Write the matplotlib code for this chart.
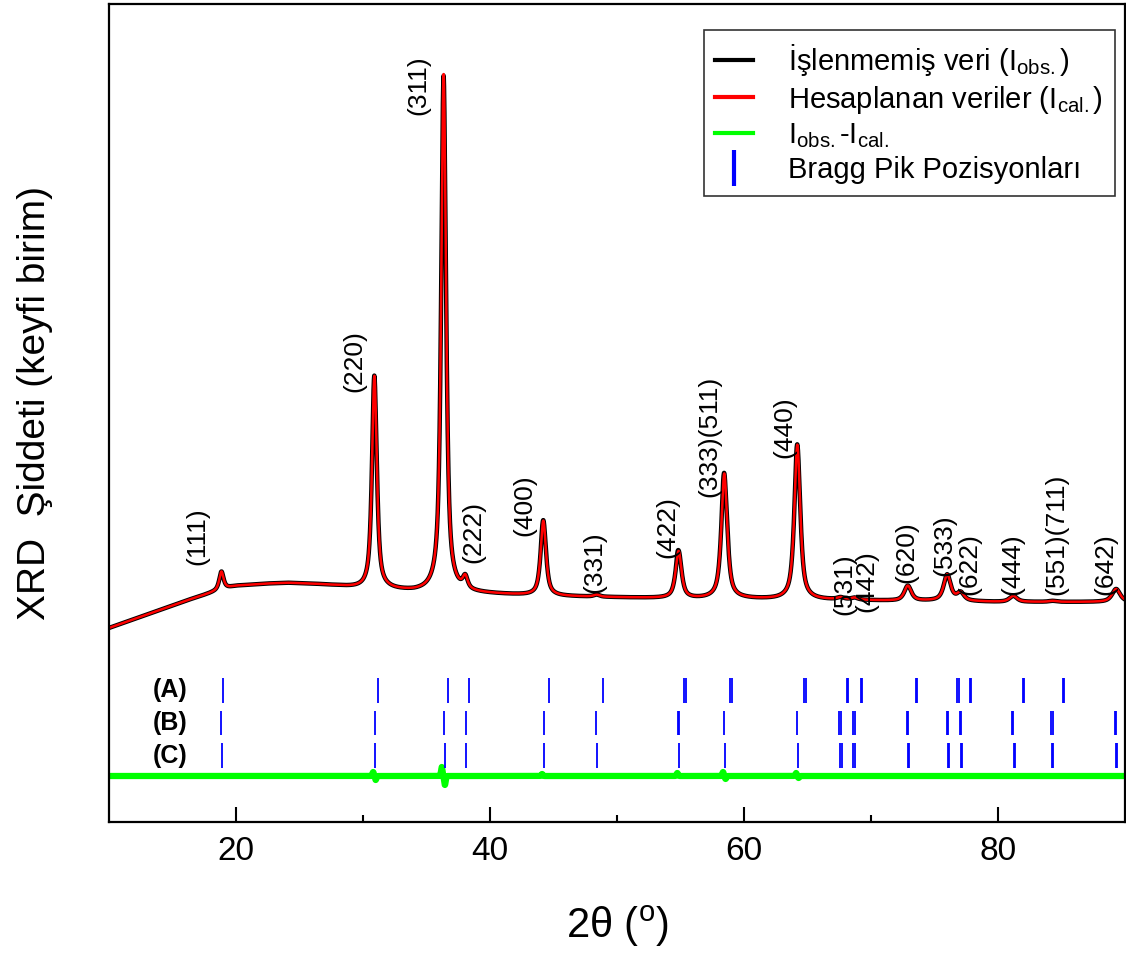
import numpy as np
import matplotlib.pyplot as plt
from matplotlib.lines import Line2D

plt.rcParams['font.family'] = ['Liberation Sans', 'DejaVu Sans']
plt.rcParams['mathtext.fontset'] = 'custom'
plt.rcParams['mathtext.rm'] = 'Liberation Sans'
plt.rcParams['mathtext.it'] = 'Liberation Sans:italic'

# background read along the pattern (2theta, intensity)
bg_2theta = [10, 12, 14, 16, 18, 19, 20, 22, 24, 26, 28, 30, 32, 34, 38, 40, 44, 48, 52, 56, 60, 64, 68, 72, 76, 80, 84, 88, 90]
bg_int = [194, 203, 212, 221, 229, 233, 236, 238, 239, 238, 236, 233, 232, 230, 229, 228, 226, 225, 224, 223, 223, 222, 222, 221, 221, 220, 220, 220, 220]

# reflections: position, height above background, FWHM
peak_2theta = [18.85, 30.90, 36.35, 38.05, 44.20, 48.40, 54.85, 58.45, 64.20, 67.60, 68.70, 72.90, 76.00, 77.05, 81.20, 84.30, 89.30]
peak_height = [18, 213, 518, 12, 75, 2, 47, 125, 155, 2, 2, 15, 26, 8, 6, 1, 13]
peak_fwhm = [0.40, 0.45, 0.45, 0.45, 0.50, 0.55, 0.55, 0.55, 0.55, 0.6, 0.6, 0.65, 0.65, 0.65, 0.7, 0.7, 0.75]

# residual (obs - calc) around the strong reflections
resid_2theta = [30.80, 31.00, 36.20, 36.45, 44.10, 54.75, 58.35, 58.55, 64.10, 64.30]
resid_amp = [4, -4, 9, -9, 2, 3, 4, -3, 3, -2]

# Bragg positions for the three phases
bragg_A = [18.98, 31.2, 36.67, 38.37, 44.61, 48.87, 55.25, 55.40, 58.92, 59.06, 64.74, 64.88,
           68.08, 68.22, 69.18, 69.32, 73.55, 73.66, 76.78, 76.92, 77.77, 77.90, 81.94, 82.08, 85.09, 85.23]
bragg_B = [18.82, 30.91, 36.35, 38.08, 44.22, 48.35, 54.80, 54.90, 58.46, 64.19, 67.50, 67.62,
           68.62, 68.74, 72.83, 72.93, 75.95, 76.07, 77.00, 77.12, 81.12, 81.22, 84.18, 84.30, 89.20, 89.33]
bragg_C = [18.87, 30.91, 36.46, 38.08, 44.22, 48.43, 54.90, 58.54, 64.27, 67.58, 67.70,
           68.60, 68.72, 72.95, 73.03, 76.08, 76.18, 77.08, 77.20, 81.25, 81.37, 84.25, 84.37, 89.27, 89.39]
bragg_rows = [bragg_A, bragg_B, bragg_C]
row_names = ['(A)', '(B)', '(C)']
row_lo = [119, 87, 54]
row_hi = [144, 111, 79]

# hkl labels: text, x, y of the lower end
hkl_text = ['(111)', '(220)', '(311)', '(222)', '(400)', '(331)', '(422)', '(333)(511)', '(440)',
            '(531)', '(442)', '(620)', '(533)', '(622)', '(444)', '(551)(711)', '(642)']
hkl_x = [16.93, 29.29, 34.33, 38.66, 42.68, 48.19, 53.94, 57.24, 63.15,
         67.87, 69.61, 72.76, 75.75, 77.72, 81.1, 84.57, 88.43]
hkl_y = [257, 430, 707, 259, 286, 229, 264, 325, 364, 207, 210, 239, 246, 227, 227, 227, 227]

diff_offset = 46


def pseudo_voigt(x, x0, h, w, eta=0.75):
    g = np.exp(-4 * np.log(2) * ((x - x0) / w) ** 2)
    lor = 1.0 / (1.0 + 4 * ((x - x0) / w) ** 2)
    return h * (eta * lor + (1 - eta) * g)


tt = np.arange(10, 90.001, 0.01)
calc = np.interp(tt, bg_2theta, bg_int)
for p, h, w in zip(peak_2theta, peak_height, peak_fwhm):
    calc = calc + pseudo_voigt(tt, p, h, w)
diff = np.zeros_like(tt)
for p, a in zip(resid_2theta, resid_amp):
    diff = diff + a * np.exp(-((tt - p) / 0.08) ** 2)
obs = calc + diff

fig = plt.figure(figsize=(11.26, 9.56), dpi=100)
ax = fig.add_axes([109 / 1126, 134 / 956, 1016 / 1126, 818 / 956])

ax.plot(tt, obs, color='black', lw=3.2, label='İşlenmemiş veri (' + r'$\mathrm{I_{obs.}}$' + ')')
ax.plot(tt, calc, color='red', lw=1.8, label='Hesaplanan veriler (' + r'$\mathrm{I_{cal.}}$' + ')')
ax.plot(tt, diff + diff_offset, color='#00ff00', lw=4.5, label=r'$\mathrm{I_{obs.}}$-$\mathrm{I_{cal.}}$')

for pos, lo, hi, name in zip(bragg_rows, row_lo, row_hi, row_names):
    ax.vlines(pos, lo, hi, color='blue', lw=1.3)
    ax.text(16.2, (lo + hi) / 2, name, ha='right', va='center', fontsize=18, fontweight='bold')

for t, x, y in zip(hkl_text, hkl_x, hkl_y):
    ax.text(x, y, t, rotation=90, ha='center', va='bottom', fontsize=19)

handles, labels = ax.get_legend_handles_labels()
handles.append(Line2D([], [], color='blue', marker='|', linestyle='none', markersize=26, markeredgewidth=3))
labels.append('Bragg Pik Pozisyonları')
leg = ax.legend(handles, labels, loc='upper right', bbox_to_anchor=(0.99, 0.968), fontsize=21,
                frameon=True, fancybox=False, edgecolor='black', handlelength=1.3,
                handletextpad=1.2, borderpad=0.4, labelspacing=0.2, borderaxespad=0)
leg.get_frame().set_linewidth(1.2)
for line in leg.get_lines()[:3]:
    line.set_linewidth(3)

ax.set_xlim(10, 90)
ax.set_ylim(0, 818)
ax.set_xticks([20, 40, 60, 80])
ax.set_xticks([30, 50, 70], minor=True)
ax.set_yticks([])
ax.tick_params(axis='x', which='major', direction='in', length=11, width=1.5, labelsize=24, pad=10)
ax.tick_params(axis='x', which='minor', direction='in', length=5, width=1.5)
for s in ax.spines.values():
    s.set_linewidth(1.6)

ax.set_xlabel('2θ (' + r'$^{\mathrm{o}}$' + ')', fontsize=30)
ax.xaxis.set_label_coords(0.5, -0.100)
ax.set_ylabel('XRD  Şiddeti (keyfi birim)', fontsize=28)
ax.yaxis.set_label_coords(-0.055, 0.512)

fig.savefig('out.png', dpi=100)
